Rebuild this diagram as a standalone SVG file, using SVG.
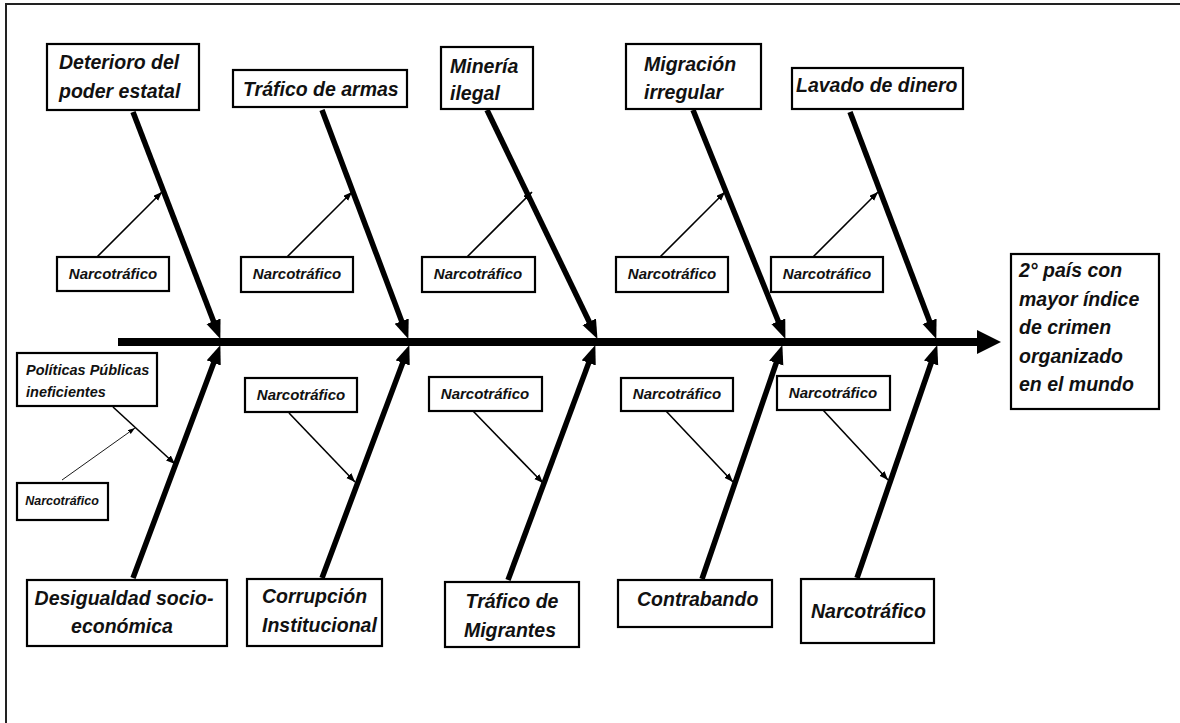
<svg xmlns="http://www.w3.org/2000/svg" width="1180" height="723" viewBox="0 0 1180 723">
<defs>
<style>
.box{fill:#fff;stroke:#000;stroke-width:2.2}
.t{font-family:"Liberation Sans",Arial,sans-serif;font-weight:bold;font-style:italic;fill:#111}
.big{font-size:19.5px}
.nar{font-size:15px}
.bone{stroke:#000;stroke-width:5.5;fill:none}
.br{stroke:#000;stroke-width:1.6;fill:none}
</style>
<marker id="big" markerUnits="userSpaceOnUse" markerWidth="20" markerHeight="16" refX="8" refY="7.5" orient="auto">
<path d="M0,0 L19,7.5 L0,15 z" fill="#000"/>
</marker>
<marker id="sm" markerUnits="userSpaceOnUse" markerWidth="10" markerHeight="8" refX="9" refY="3.5" orient="auto">
<path d="M0,0 L9,3.5 L0,7 z" fill="#000"/>
</marker>
<marker id="xs" markerUnits="userSpaceOnUse" markerWidth="8" markerHeight="6" refX="7" refY="2.5" orient="auto">
<path d="M0,0 L7,2.5 L0,5 z" fill="#000"/>
</marker>
</defs>
<rect x="0" y="0" width="1180" height="723" fill="#fff"/>
<rect x="6" y="4" width="1300" height="900" fill="none" stroke="#222" stroke-width="2"/>

<g id="connectors">
<line x1="118" y1="342" x2="980" y2="342" stroke="#000" stroke-width="8"/>
<polygon points="977,330 1001,342 977,354" fill="#000"/>
<line class="bone" x1="133" y1="112" x2="216.4" y2="328.7" marker-end="url(#big)"/>
<line class="bone" x1="322" y1="110" x2="404.5" y2="328.6" marker-end="url(#big)"/>
<line class="bone" x1="487" y1="110" x2="592.7" y2="329" marker-end="url(#big)"/>
<line class="bone" x1="693" y1="110" x2="781.3" y2="328.7" marker-end="url(#big)"/>
<line class="bone" x1="850" y1="112" x2="932.4" y2="328.7" marker-end="url(#big)"/>
<line class="bone" x1="133" y1="578" x2="216.5" y2="355.4" marker-end="url(#big)"/>
<line class="bone" x1="322" y1="578" x2="405.5" y2="355.4" marker-end="url(#big)"/>
<line class="bone" x1="508" y1="580" x2="591.5" y2="355.4" marker-end="url(#big)"/>
<line class="bone" x1="702" y1="579" x2="778.8" y2="355.5" marker-end="url(#big)"/>
<line class="bone" x1="857" y1="578" x2="933.7" y2="355.5" marker-end="url(#big)"/>
<line class="br" x1="97" y1="257" x2="162" y2="192" marker-end="url(#sm)"/>
<line class="br" x1="287" y1="257" x2="352" y2="192" marker-end="url(#sm)"/>
<line class="br" x1="467" y1="257" x2="532" y2="192" marker-end="url(#sm)"/>
<line class="br" x1="660" y1="257" x2="725" y2="192" marker-end="url(#sm)"/>
<line class="br" x1="813" y1="257" x2="878" y2="192" marker-end="url(#sm)"/>
<line class="br" x1="113" y1="407" x2="175" y2="464" marker-end="url(#sm)"/>
<line class="br" x1="289" y1="413" x2="355" y2="482" marker-end="url(#sm)"/>
<line class="br" x1="473" y1="411" x2="543" y2="483" marker-end="url(#sm)"/>
<line class="br" x1="666" y1="411" x2="733" y2="482" marker-end="url(#sm)"/>
<line class="br" x1="823" y1="410" x2="888" y2="480" marker-end="url(#sm)"/>
<line x1="62" y1="480" x2="135" y2="428" stroke="#000" stroke-width="0.9" marker-end="url(#xs)"/>
</g>

<g id="n-deterioro"><rect class="box" x="47" y="44" width="152" height="66"/>
<text class="t big" x="59" y="69">Deterioro del</text><text class="t big" x="59" y="98">poder estatal</text></g>
<g id="n-armas"><rect class="box" x="233" y="70" width="174" height="37"/>
<text class="t big" x="243" y="96">Tráfico de armas</text></g>
<g id="n-mineria"><rect class="box" x="441" y="47" width="92" height="62"/>
<text class="t big" x="450" y="73">Minería</text><text class="t big" x="450" y="100">ilegal</text></g>
<g id="n-migracion"><rect class="box" x="626" y="44" width="135" height="65"/>
<text class="t big" x="644" y="71">Migración</text><text class="t big" x="644" y="99">irregular</text></g>
<g id="n-lavado"><rect class="box" x="792" y="68" width="171" height="41"/>
<text class="t big" x="796" y="92">Lavado de dinero</text></g>

<g id="n-nt1"><rect class="box" x="57" y="257" width="112" height="34"/><text class="t nar" x="113" y="279" text-anchor="middle">Narcotráfico</text></g>
<g id="n-nt2"><rect class="box" x="241" y="257" width="112" height="35"/><text class="t nar" x="297" y="279" text-anchor="middle">Narcotráfico</text></g>
<g id="n-nt3"><rect class="box" x="422" y="257" width="113" height="35"/><text class="t nar" x="478" y="279" text-anchor="middle">Narcotráfico</text></g>
<g id="n-nt4"><rect class="box" x="616" y="257" width="112" height="35"/><text class="t nar" x="672" y="279" text-anchor="middle">Narcotráfico</text></g>
<g id="n-nt5"><rect class="box" x="771" y="257" width="112" height="35"/><text class="t nar" x="827" y="279" text-anchor="middle">Narcotráfico</text></g>

<g id="n-politicas"><rect class="box" x="17" y="353" width="140" height="53"/>
<text class="t" style="font-size:14.5px" x="26" y="375">Políticas Públicas</text><text class="t" style="font-size:14.5px" x="26" y="397">ineficientes</text></g>
<g id="n-nt6"><rect class="box" x="17" y="483" width="91" height="37"/><text class="t" style="font-size:12.5px" x="62" y="505" text-anchor="middle">Narcotráfico</text></g>
<g id="n-nb2"><rect class="box" x="245" y="378" width="112" height="34"/><text class="t nar" x="301" y="400" text-anchor="middle">Narcotráfico</text></g>
<g id="n-nb3"><rect class="box" x="429" y="377" width="113" height="34"/><text class="t nar" x="485" y="399" text-anchor="middle">Narcotráfico</text></g>
<g id="n-nb4"><rect class="box" x="621" y="378" width="112" height="33"/><text class="t nar" x="677" y="399" text-anchor="middle">Narcotráfico</text></g>
<g id="n-nb5"><rect class="box" x="777" y="376" width="113" height="34"/><text class="t nar" x="833" y="398" text-anchor="middle">Narcotráfico</text></g>

<g id="n-desigualdad"><rect class="box" x="27" y="580" width="200" height="66"/>
<text class="t big" x="124" y="605" text-anchor="middle">Desigualdad socio-</text><text class="t big" x="122" y="633" text-anchor="middle">económica</text></g>
<g id="n-corrupcion"><rect class="box" x="247" y="579" width="135" height="67"/>
<text class="t big" x="262" y="603">Corrupción</text><text class="t big" x="262" y="632">Institucional</text></g>
<g id="n-trafmig"><rect class="box" x="445" y="582" width="134" height="65"/>
<text class="t big" x="512" y="608" text-anchor="middle">Tráfico de</text><text class="t big" x="510" y="637" text-anchor="middle">Migrantes</text></g>
<g id="n-contrabando"><rect class="box" x="618" y="580" width="154" height="47"/>
<text class="t big" x="637" y="606">Contrabando</text></g>
<g id="n-narco"><rect class="box" x="801" y="579" width="133" height="64"/>
<text class="t big" x="811" y="618">Narcotráfico</text></g>

<g id="n-efecto"><rect class="box" x="1011" y="254" width="148" height="155"/>
<text class="t big" x="1019" y="277">2° país con</text>
<text class="t big" x="1019" y="306">mayor índice</text>
<text class="t big" x="1019" y="334">de crimen</text>
<text class="t big" x="1019" y="363">organizado</text>
<text class="t big" x="1019" y="391">en el mundo</text></g>
</svg>
